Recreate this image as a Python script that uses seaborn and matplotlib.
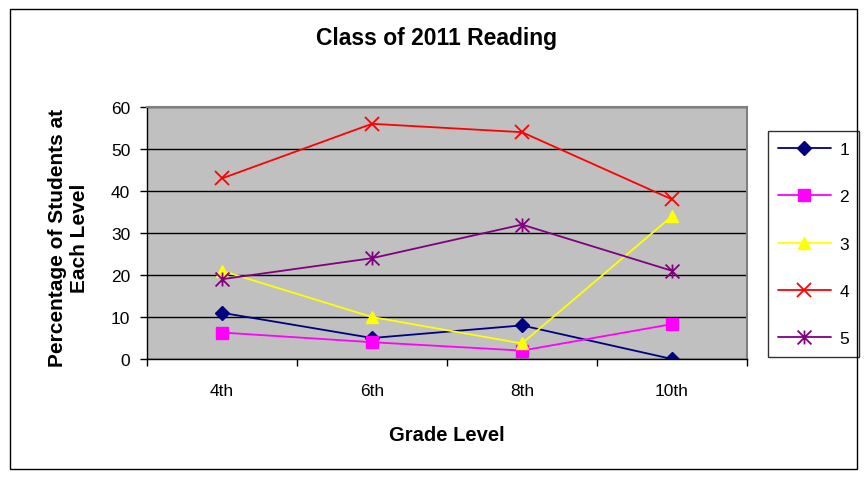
import numpy as np
import pandas as pd
import matplotlib.pyplot as plt
from matplotlib.path import Path
from matplotlib.patches import Rectangle
import seaborn as sns

# data
grades = ["4th", "6th", "8th", "10th"]
level_1 = [11, 5, 8, 0]
level_2 = [6.3, 4, 2, 8.3]
level_3 = [21, 10, 3.7, 34]
level_4 = [43, 56, 54, 38]
level_5 = [19, 24, 32, 21]

series = {"1": level_1, "2": level_2, "3": level_3, "4": level_4, "5": level_5}
colors = {"1": "#000080", "2": "#FF00FF", "3": "#FFFF00", "4": "#FF0000", "5": "#800080"}

# excel style star: x plus vertical bar
star = Path([(0, -1), (0, 1), (-1, -1), (1, 1), (-1, 1), (1, -1)],
            [Path.MOVETO, Path.LINETO, Path.MOVETO, Path.LINETO, Path.MOVETO, Path.LINETO])
markers = {"1": "D", "2": "s", "3": "^", "4": "x", "5": star}
sizes = {"1": 7, "2": 8, "3": 9, "4": 10, "5": 10}

sns.set_style("white")
plt.rcParams['font.family'] = ['Liberation Sans', 'DejaVu Sans']
plt.rcParams['text.color'] = 'black'
plt.rcParams['axes.labelcolor'] = 'black'
plt.rcParams['xtick.color'] = 'black'
plt.rcParams['ytick.color'] = 'black'

fig = plt.figure(figsize=(8.67, 4.81), dpi=100)
ax = fig.add_axes([147 / 867, 1 - 360 / 481, 600 / 867, 252 / 481])
ax.set_facecolor("#C0C0C0")

xpos = np.arange(len(grades))
for name, vals in series.items():
    c = colors[name]
    filled = name not in ("4", "5")
    sns.lineplot(x=xpos, y=vals, ax=ax, color=c, marker=markers[name],
                 markersize=sizes[name], markeredgecolor=c,
                 markerfacecolor=c if filled else "none",
                 markeredgewidth=1.0 if filled else 1.3,
                 linewidth=1.3, label=name)

ax.set_xlim(-0.5, len(grades) - 0.5)
ax.set_ylim(0, 60)
ax.set_yticks(range(0, 61, 10))
ax.set_xticks(np.arange(-0.5, len(grades), 1.0))
ax.set_xticklabels([])
ax.set_xticks(xpos, minor=True)
ax.set_xticklabels(grades, minor=True)
ax.tick_params(axis="x", which="major", direction="out", length=5, width=1, color="black", bottom=True)
ax.tick_params(axis="x", which="minor", length=0, labelsize=12.5, pad=17)
ax.tick_params(axis="y", direction="out", length=5, width=1, color="black", left=True, labelsize=12.5, pad=7)
ax.grid(axis="y", color="black", linewidth=1)
ax.set_axisbelow(True)

for s in ("left", "bottom"):
    ax.spines[s].set_color("black")
    ax.spines[s].set_linewidth(1)
for s in ("top", "right"):
    ax.spines[s].set_color("#808080")
    ax.spines[s].set_linewidth(1.5)

ax.set_xlabel("Grade Level", fontsize=14.5, fontweight="bold")
ax.xaxis.set_label_coords(0.5, -0.262)
ax.set_ylabel("Percentage of Students at\nEach Level", fontsize=15, fontweight="bold")
ax.yaxis.set_label_coords(-0.097, 0.484)
fig.text(437 / 867, 1 - 38 / 481, "Class of 2011 Reading", fontsize=16.5, fontweight="bold",
         ha="center", va="center")

leg = ax.legend(loc="center left", bbox_to_anchor=(768 / 867, 1 - 245 / 481),
                bbox_transform=fig.transFigure, fontsize=12.5, frameon=True, fancybox=False,
                edgecolor="black", handlelength=3.0, labelspacing=1.85, borderpad=0.6,
                handletextpad=0.5, borderaxespad=0)
leg.get_frame().set_linewidth(1)

# outer chart border
fig.patches.append(Rectangle((10 / 867, 1 - 470 / 481), 847 / 867, 460 / 481,
                             transform=fig.transFigure, fill=False, edgecolor="black", linewidth=1))

fig.savefig("out.png", dpi=100)
